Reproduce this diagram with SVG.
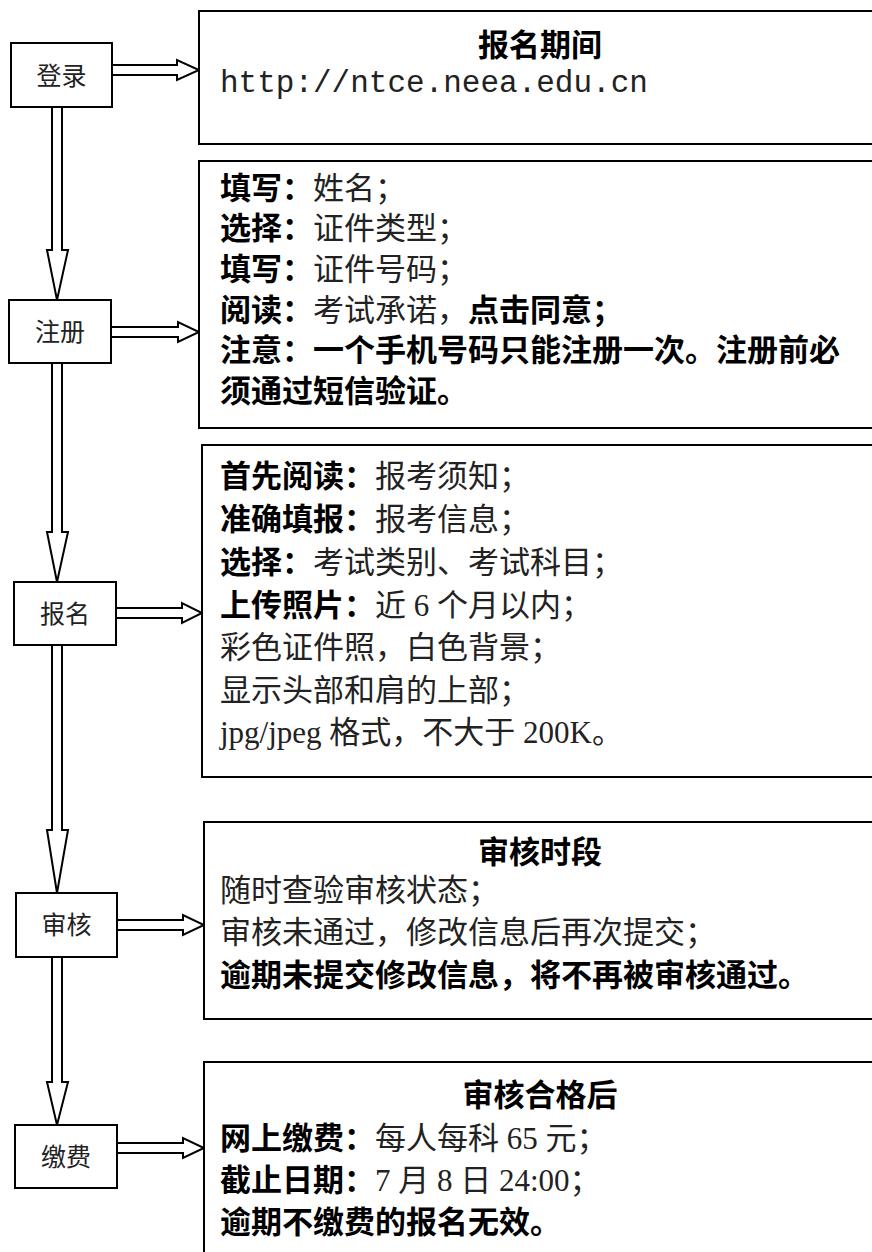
<svg xmlns="http://www.w3.org/2000/svg" width="872" height="1252" viewBox="0 0 872 1252">
<style>
.box{fill:#fff;stroke:#000;stroke-width:2}
.arr{fill:#fff;stroke:#000;stroke-width:2;stroke-linejoin:miter}
.t{font-family:"Liberation Serif","Noto Sans CJK SC",serif;font-size:31px;fill:#000}
.lbl{font-family:"Liberation Serif","Noto Sans CJK SC",serif;font-size:25px;fill:#222;text-anchor:middle}
.b{font-family:"Liberation Sans","Noto Sans CJK SC",sans-serif;font-weight:700;fill:#000}
.r{font-weight:400;fill:#222}
.mono{font-family:"Liberation Mono","Noto Sans CJK SC",monospace;font-size:31px;fill:#222}
.title{text-anchor:middle}
</style>
<rect width="872" height="1252" fill="#fff"/>
<g id="connectors">
<polygon class="arr" points="52,107 52,250 47,250 57,300 68,250 62,250 62,107"/>
<polygon class="arr" points="52,363 52,532 47,532 57,582 68,532 62,532 62,363"/>
<polygon class="arr" points="52,645 52,830 47,830 57,893 68,830 62,830 62,645"/>
<polygon class="arr" points="52,957 52,1082 47,1082 57,1125 68,1082 62,1082 62,957"/>
<polygon class="arr" points="112,65 177,65 177,60 199,70 177,80 177,75 112,75"/>
<polygon class="arr" points="111,327 178,327 178,322 199,332 178,342 178,337 111,337"/>
<polygon class="arr" points="116,608 182,608 182,603 202,613 182,623 182,618 116,618"/>
<polygon class="arr" points="117,920 183,920 183,915 204,925 183,935 183,930 117,930"/>
<polygon class="arr" points="117,1143 183,1143 183,1138 204,1148 183,1158 183,1153 117,1153"/>
</g>
<g id="node-login">
<rect class="box" x="11" y="43" width="101" height="64"/>
<text class="lbl" x="61.5" y="85">登录</text>
</g>
<g id="node-register">
<rect class="box" x="9" y="300" width="102" height="63"/>
<text class="lbl" x="60" y="341">注册</text>
</g>
<g id="node-apply">
<rect class="box" x="14" y="582" width="102" height="63"/>
<text class="lbl" x="65" y="623">报名</text>
</g>
<g id="node-review">
<rect class="box" x="16" y="893" width="101" height="64"/>
<text class="lbl" x="66.5" y="934">审核</text>
</g>
<g id="node-pay">
<rect class="box" x="15" y="1125" width="102" height="63"/>
<text class="lbl" x="66" y="1166">缴费</text>
</g>
<g id="info-period">
<rect class="box" x="199" y="11" width="690" height="133"/>
<text class="t b title" x="540" y="56">报名期间</text>
<text class="mono" x="220" y="92">http://ntce.neea.edu.cn</text>
</g>
<g id="info-register">
<rect class="box" x="199" y="161" width="690" height="267"/>
<text class="t" x="220" y="199"><tspan class="b">填写：</tspan><tspan class="r">姓名；</tspan></text>
<text class="t" x="220" y="239"><tspan class="b">选择：</tspan><tspan class="r">证件类型；</tspan></text>
<text class="t" x="220" y="280"><tspan class="b">填写：</tspan><tspan class="r">证件号码；</tspan></text>
<text class="t" x="220" y="321"><tspan class="b">阅读：</tspan><tspan class="r">考试承诺，</tspan><tspan class="b">点击同意；</tspan></text>
<text class="t b" x="220" y="361">注意：一个手机号码只能注册一次。注册前必</text>
<text class="t b" x="220" y="402">须通过短信验证。</text>
</g>
<g id="info-apply">
<rect class="box" x="202" y="445" width="690" height="332"/>
<text class="t" x="220" y="487"><tspan class="b">首先阅读：</tspan><tspan class="r">报考须知；</tspan></text>
<text class="t" x="220" y="530"><tspan class="b">准确填报：</tspan><tspan class="r">报考信息；</tspan></text>
<text class="t" x="220" y="573"><tspan class="b">选择：</tspan><tspan class="r">考试类别、考试科目；</tspan></text>
<text class="t" x="220" y="616"><tspan class="b">上传照片：</tspan><tspan class="r">近 6 个月以内；</tspan></text>
<text class="t r" x="220" y="658">彩色证件照，白色背景；</text>
<text class="t r" x="220" y="701">显示头部和肩的上部；</text>
<text class="t r" x="220" y="743">jpg/jpeg 格式，不大于 200K。</text>
</g>
<g id="info-review">
<rect class="box" x="204" y="822" width="690" height="197"/>
<text class="t b title" x="540" y="863">审核时段</text>
<text class="t r" x="220" y="901">随时查验审核状态；</text>
<text class="t r" x="220" y="943">审核未通过，修改信息后再次提交；</text>
<text class="t b" x="220" y="986">逾期未提交修改信息，将不再被审核通过。</text>
</g>
<g id="info-pay">
<rect class="box" x="204" y="1062" width="690" height="220"/>
<text class="t b title" x="540" y="1106">审核合格后</text>
<text class="t" x="220" y="1149"><tspan class="b">网上缴费：</tspan><tspan class="r">每人每科 65 元；</tspan></text>
<text class="t" x="220" y="1191"><tspan class="b">截止日期：</tspan><tspan class="r">7 月 8 日 24:00；</tspan></text>
<text class="t b" x="220" y="1233">逾期不缴费的报名无效。</text>
</g>
</svg>
